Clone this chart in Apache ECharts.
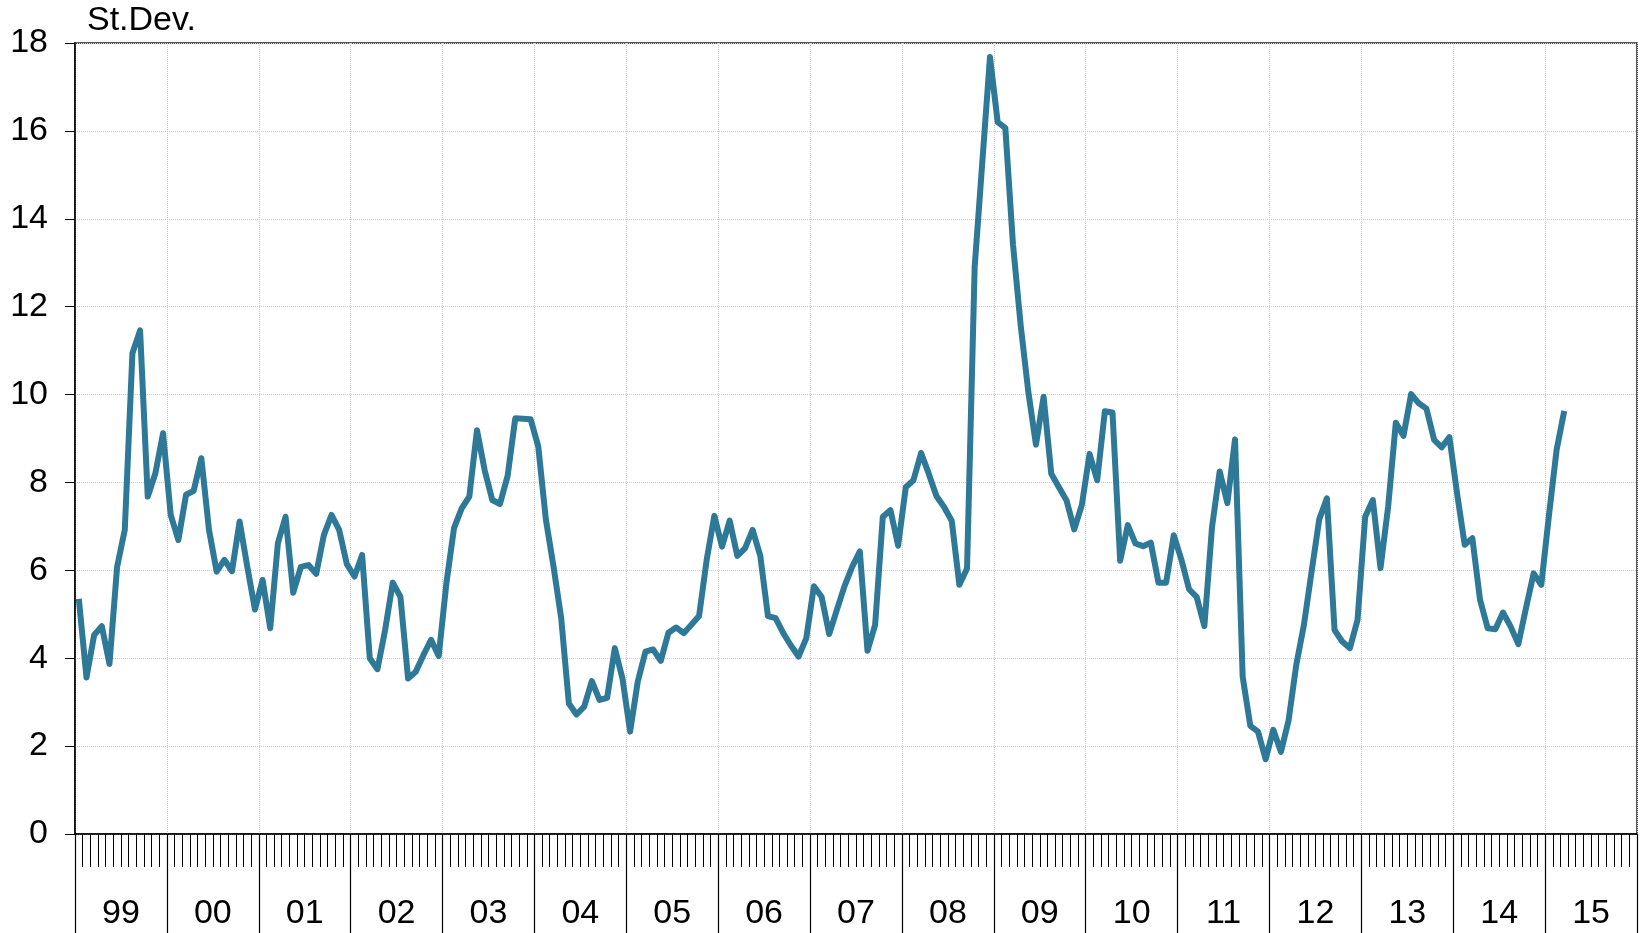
<!DOCTYPE html>
<html>
<head>
<meta charset="utf-8">
<script src="https://cdn.jsdelivr.net/npm/echarts@6/dist/echarts.min.js"></script>
<style>
  html, body { margin: 0; padding: 0; background: #ffffff; }
  #chart { width: 1643px; height: 933px; }
</style>
</head>
<body>
<div id="chart"></div>
<script>
// ---- Data (monthly standard deviation, Jan 1999 – Mar 2015) ----
const yearLabels = ['99','00','01','02','03','04','05','06','07','08','09','10','11','12','13','14','15'];
const yTicks = [0, 2, 4, 6, 8, 10, 12, 14, 16, 18];
const yTitle = 'St.Dev.';

const y1999 = [5.35, 3.56, 4.53, 4.73, 3.87, 6.08, 6.92, 10.94, 11.46, 7.68, 8.21, 9.12];
const y2000 = [7.26, 6.69, 7.72, 7.81, 8.55, 6.92, 5.97, 6.24, 5.98, 7.11, 6.08, 5.11];
const y2001 = [5.78, 4.68, 6.62, 7.22, 5.49, 6.08, 6.12, 5.92, 6.80, 7.26, 6.92, 6.14];
const y2002 = [5.86, 6.35, 4.00, 3.75, 4.64, 5.72, 5.40, 3.54, 3.69, 4.07, 4.42, 4.05];
const y2003 = [5.70, 6.96, 7.41, 7.68, 9.19, 8.28, 7.60, 7.51, 8.15, 9.46, 9.45, 9.44];
const y2004 = [8.82, 7.15, 6.08, 4.91, 2.97, 2.72, 2.90, 3.48, 3.05, 3.10, 4.23, 3.54];
const y2005 = [2.33, 3.47, 4.15, 4.20, 3.94, 4.58, 4.70, 4.57, 4.76, 4.96, 6.24, 7.24];
const y2006 = [6.54, 7.13, 6.33, 6.50, 6.92, 6.33, 4.96, 4.91, 4.57, 4.29, 4.04, 4.45];
const y2007 = [5.64, 5.40, 4.55, 5.10, 5.64, 6.08, 6.43, 4.17, 4.76, 7.22, 7.37, 6.56];
const y2008 = [7.89, 8.05, 8.67, 8.20, 7.69, 7.44, 7.13, 5.67, 6.04, 12.91, 15.30, 17.68];
const y2009 = [16.20, 16.07, 13.42, 11.59, 10.07, 8.86, 9.95, 8.20, 7.89, 7.59, 6.93, 7.49];
const y2010 = [8.65, 8.05, 9.62, 9.59, 6.22, 7.03, 6.61, 6.55, 6.63, 5.72, 5.72, 6.80];
const y2011 = [6.24, 5.57, 5.39, 4.73, 6.99, 8.25, 7.53, 8.98, 3.58, 2.46, 2.33, 1.70];
const y2012 = [2.37, 1.87, 2.59, 3.85, 4.76, 5.97, 7.16, 7.64, 4.64, 4.38, 4.23, 4.87];
const y2013 = [7.22, 7.60, 6.05, 7.45, 9.36, 9.06, 10.01, 9.80, 9.68, 8.97, 8.80, 9.03];
const y2014 = [7.75, 6.58, 6.73, 5.33, 4.68, 4.66, 5.04, 4.72, 4.32, 5.14, 5.93, 5.67];
const y2015 = [7.25, 8.74, 9.63];

const stdev = [].concat(y1999, y2000, y2001, y2002, y2003, y2004, y2005, y2006,
  y2007, y2008, y2009, y2010, y2011, y2012, y2013, y2014, y2015);

// month categories for every year shown on the axis
const months = [];
yearLabels.forEach(function (yl) {
  for (let m = 1; m <= 12; m++) months.push(yl + '-' + m);
});

const FONT = '"Liberation Sans", Arial, Helvetica, sans-serif';
const chart = echarts.init(document.getElementById('chart'), null, { renderer: 'canvas' });

chart.setOption({
  backgroundColor: '#ffffff',
  animation: false,
  textStyle: { fontFamily: FONT },
  grid: {
    left: 75, right: 6, top: 43, bottom: 99,
    show: true, borderColor: '#222222', borderWidth: 1.5, backgroundColor: 'transparent'
  },
  graphic: [{
    type: 'text',
    left: 87, top: 4,
    style: { text: yTitle, fontSize: 34, fontFamily: FONT, fill: '#000000' }
  }],
  xAxis: [
    {
      type: 'category',
      data: months,
      boundaryGap: true,
      position: 'bottom',
      axisLine: { show: true, lineStyle: { color: '#000000', width: 1.5 } },
      axisTick: { show: true, interval: 0, length: 33, lineStyle: { color: '#000000', width: 1 } },
      axisLabel: { show: false },
      splitLine: { show: false }
    },
    {
      type: 'category',
      data: yearLabels,
      boundaryGap: true,
      position: 'bottom',
      offset: 0,
      axisLine: { show: false },
      axisTick: { show: true, interval: 0, length: 110, lineStyle: { color: '#000000', width: 1.2 } },
      axisLabel: { show: true, interval: 0, margin: 63, fontSize: 34, color: '#000000', fontFamily: FONT },
      splitLine: { show: true, interval: 0, lineStyle: { color: '#cfcfcf', width: 1, type: 'dotted' } }
    }
  ],
  yAxis: {
    type: 'value',
    min: 0, max: 18, interval: 2,
    axisLine: { show: true, lineStyle: { color: '#000000', width: 1.5 } },
    axisTick: { show: true, length: 10, inside: false, lineStyle: { color: '#000000', width: 1 } },
    axisLabel: {
      margin: 27, fontSize: 34, color: '#000000', fontFamily: FONT,
      formatter: function (v) { return yTicks.indexOf(v) >= 0 ? String(v) : ''; }
    },
    splitLine: { show: true, lineStyle: { color: '#cfcfcf', width: 1, type: 'dotted' } }
  },
  series: [{
    type: 'line',
    xAxisIndex: 0,
    data: stdev,
    showSymbol: false,
    symbol: 'none',
    smooth: false,
    lineStyle: { color: '#2e7898', width: 6, join: 'round' },
    z: 5
  }]
});
</script>
</body>
</html>
